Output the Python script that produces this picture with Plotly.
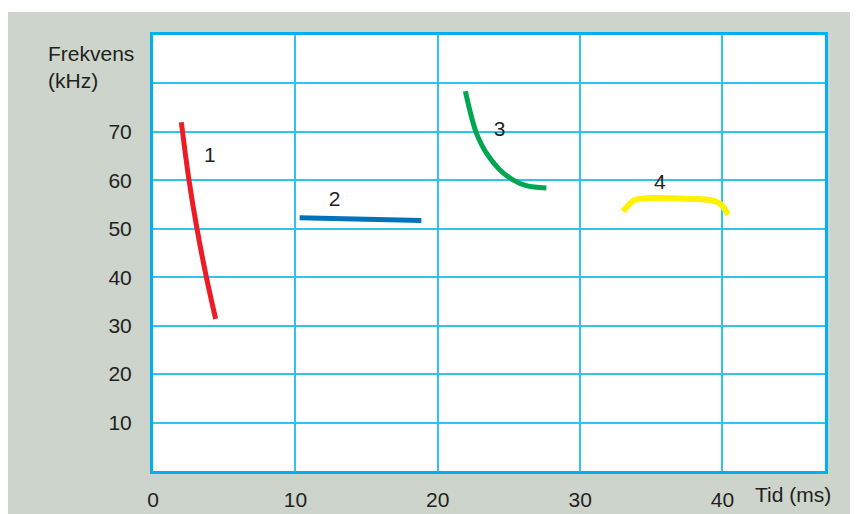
import plotly.graph_objects as go

# Data
red_x = [1.99, 2.53, 3.09, 3.75, 4.4]
red_y = [72.0, 60.0, 50.0, 40.0, 31.4]
blue_x = [10.3, 18.85]
blue_y = [52.3, 51.7]
green_x = [21.94, 22.36, 22.71, 23.42, 24.35, 25.28, 26.22, 27.63]
green_y = [78.4, 73.2, 69.8, 65.6, 62.2, 60.1, 58.9, 58.4]
yellow_x = [33.0, 33.8, 34.6, 39.2, 39.95, 40.4]
yellow_y = [53.6, 55.9, 56.3, 55.9, 54.9, 52.9]

label_text = ["1", "2", "3", "4"]
label_x = [4.0, 12.75, 24.35, 35.6]
label_y = [64.9, 55.8, 70.2, 59.3]

x_ticks = [0, 10, 20, 30, 40]
y_ticks = [0, 10, 20, 30, 40, 50, 60, 70, 80, 90]
y_ticktext = ["", "10", "20", "30", "40", "50", "60", "70", "", ""]

FONT = "Liberation Sans, Arial, Helvetica, sans-serif"
TXT = "#231f20"
GRID = "#2ec4f2"
BORDER = "#00b0ef"
FS = 21

fig = go.Figure()
for xs, ys, col, w, sm in [
    (red_x, red_y, "#ed1c24", 5, 1.0),
    (blue_x, blue_y, "#0072bc", 5, 0.0),
    (green_x, green_y, "#00a651", 5, 0.9),
    (yellow_x, yellow_y, "#fff200", 6, 0.6),
]:
    fig.add_trace(go.Scatter(x=xs, y=ys, mode="lines",
                             line=dict(color=col, width=w, shape="spline", smoothing=sm),
                             hoverinfo="skip", showlegend=False))

fig.add_trace(go.Scatter(x=label_x, y=label_y, mode="text", text=label_text,
                         textfont=dict(family=FONT, size=FS, color=TXT),
                         hoverinfo="skip", showlegend=False))

W, H = 850, 506
L, R, T, B = 145, 33, 27, 43
PW, PH = W - L - R, H - T - B

fig.update_layout(
    width=W, height=H,
    margin=dict(l=L, r=R, t=T, b=B, autoexpand=False),
    paper_bgcolor="#cdd4cb",
    plot_bgcolor="white",
    font=dict(family=FONT, size=FS, color=TXT),
    xaxis=dict(range=[0, 47.2], tickvals=x_ticks, showgrid=True, gridcolor=GRID, gridwidth=1.5,
               zeroline=False, showline=True, linecolor=BORDER, linewidth=3, mirror=True,
               ticks="", ticklabelstandoff=8, tickfont=dict(size=FS, color=TXT)),
    yaxis=dict(range=[0, 90], tickvals=y_ticks, ticktext=y_ticktext, showgrid=True,
               gridcolor=GRID, gridwidth=1.5, zeroline=False, showline=True,
               linecolor=BORDER, linewidth=3, mirror=True, ticks="",
               ticklabelstandoff=14, tickfont=dict(size=FS, color=TXT)),
    shapes=[
        dict(type="rect", xref="paper", yref="paper", x0=-0.3, x1=1.1,
             y0=(H - B - 4) / PH, y1=1.2, fillcolor="white", line_width=0, layer="above"),
    ],
    annotations=[
        dict(text="Frekvens<br>(kHz)", xref="paper", yref="paper",
             x=(46 - 8 - L) / PW, y=(H - B - (40 - 8)) / PH, xanchor="left", yanchor="top",
             align="left", showarrow=False, font=dict(size=FS, color=TXT)),
        dict(text="Tid (ms)", xref="paper", yref="paper",
             x=(753 - 8 - L) / PW, y=(H - B - (494 - 8)) / PH, xanchor="left", yanchor="middle",
             showarrow=False, font=dict(size=FS, color=TXT)),
    ],
)

fig.write_html("out.html")
